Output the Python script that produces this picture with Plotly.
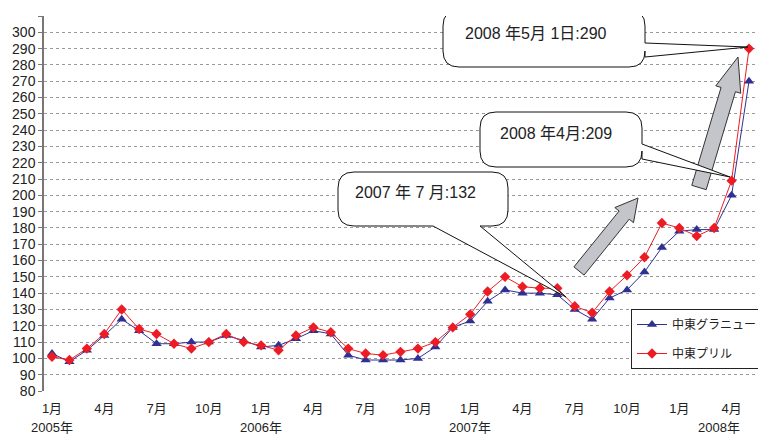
import plotly.graph_objects as go

# ---------------- data ----------------
months = list(range(41))  # Jan 2005 .. May 2008
granular = [103, 98, 105, 114, 124, 117, 109, 109, 110, 110, 114, 111,
            107, 108, 112, 117, 115, 102, 99, 99, 99, 100, 107, 119,
            123, 135, 142, 140, 140, 139, 130, 124, 137, 142, 153, 168,
            178, 179, 179, 200, 270]
prill = [101, 99, 106, 115, 130, 118, 115, 109, 106, 110, 115, 110,
         108, 105, 114, 119, 116, 106, 103, 102, 104, 106, 110, 119,
         127, 141, 150, 144, 143, 143, 132, 128, 141, 151, 162, 183,
         180, 175, 180, 209, 290]
tick_vals = list(range(0, 41, 3))
tick_text = ["1月", "4月", "7月", "10月"] * 3 + ["1月", "4月"]
year_labels = ["2005年", "2006年", "2007年", "2008年"]
year_pos = [0, 12, 24, 38.3]
series_names = ["中東グラニュー", "中東プリル"]
callouts = ["2008 年5月 1日:290", "2008 年4月:209", "2007 年 7 月:132"]

# ---------------- geometry (screen pixels -> data) ----------------
OFF = 8                      # default page body margin
SW, SH = 766, 436            # screen size
W, H = SW - OFF, SH - OFF    # figure size
PL, PR, PT, PB = 44, 766, 16, 391   # plot area on screen
ML, MR, MT, MB = PL - OFF, SW - PR, PT - OFF, SH - PB
SX = (749 - 52) / 40.0
YMIN, YMAX = 80, 310
SY = (PB - PT) / (YMAX - YMIN)
XMIN = (PL - 52) / SX
XMAX = (PR - 52) / SX


def X(px):
    return (px - 52) / SX


def Y(py):
    return YMAX - (py - PT) / SY


def P(px, py):
    return f"{X(px):.4f},{Y(py):.4f}"


def bubble(x0, y0, x1, y1, r, side, a, b, tip):
    d = f"M {P(x0 + r, y0)} L {P(x1 - r, y0)} Q {P(x1, y0)} {P(x1, y0 + r)} "
    if side == "right":
        d += f"L {P(x1, a)} L {P(*tip)} L {P(x1, b)} "
    d += f"L {P(x1, y1 - r)} Q {P(x1, y1)} {P(x1 - r, y1)} "
    if side == "bottom":
        d += f"L {P(b, y1)} L {P(*tip)} L {P(a, y1)} "
    d += f"L {P(x0 + r, y1)} Q {P(x0, y1)} {P(x0, y1 - r)} "
    d += f"L {P(x0, y0 + r)} Q {P(x0, y0)} {P(x0 + r, y0)} Z"
    return d


def block_arrow(tail, tip, w, hw, hl):
    tx, ty = tail
    hx, hy = tip
    dx, dy = hx - tx, hy - ty
    L = (dx * dx + dy * dy) ** 0.5
    ux, uy = dx / L, dy / L
    nx, ny = -uy, ux
    bx, by = hx - ux * hl, hy - uy * hl
    pts = [
        (tx + nx * w, ty + ny * w),
        (bx + nx * w, by + ny * w),
        (bx + nx * hw, by + ny * hw),
        (hx, hy),
        (bx - nx * hw, by - ny * hw),
        (bx - nx * w, by - ny * w),
        (tx - nx * w, ty - ny * w),
    ]
    return "M " + " L ".join(P(*p) for p in pts) + " Z"


FONT = "Liberation Sans Narrow, Liberation Sans, Noto Sans CJK JP, sans-serif"
JFONT = "Liberation Sans, Noto Sans CJK JP, sans-serif"

fig = go.Figure()
fig.add_trace(go.Scatter(
    x=months, y=granular, mode="lines+markers", name=series_names[0],
    line=dict(color="#2e3192", width=1),
    marker=dict(symbol="triangle-up", size=9, color="#2e3192"),
    legendgroup="a"))
fig.add_trace(go.Scatter(
    x=months, y=prill, mode="lines+markers", name=series_names[1],
    line=dict(color="#ed1c24", width=1),
    marker=dict(symbol="diamond", size=8, color="#ed1c24"),
    legendgroup="b"))

shapes = []
arrow_style = dict(type="path", xref="x", yref="y", layer="above",
                   fillcolor="#c3c5ca", line=dict(color="#333333", width=1))
shapes.append(dict(path=block_arrow((579, 271), (638, 198), 6.5, 12, 22), **arrow_style))
shapes.append(dict(path=block_arrow((699, 187.5), (738, 57), 7.5, 13, 34), **arrow_style))

bubble_style = dict(type="path", xref="x", yref="y", layer="above",
                    fillcolor="white", line=dict(color="#111111", width=1))
shapes.append(dict(path=bubble(443, 10, 645, 67, 16, "right", 43, 57, (748, 47)), **bubble_style))
shapes.append(dict(path=bubble(480, 112, 642, 167, 16, "right", 144, 159, (730, 177)), **bubble_style))
shapes.append(dict(path=bubble(338, 172, 508, 226, 16, "bottom", 433, 480, (566, 297)), **bubble_style))

annotations = []
for txt, (cx, cy) in zip(callouts, [(536, 33), (556, 133), (415, 192)]):
    annotations.append(dict(x=X(cx), y=Y(cy), xref="x", yref="y", text=txt,
                            showarrow=False, font=dict(family=JFONT, size=16, color="#222222")))
for txt, xv in zip(year_labels, year_pos):
    annotations.append(dict(x=xv, y=(PB - 427) / (PB - PT), xref="x", yref="paper",
                            text=txt, showarrow=False, yanchor="middle",
                            font=dict(family=FONT, size=13, color="#222222")))

fig.update_layout(
    width=W, height=H, autosize=False,
    margin=dict(l=ML, r=MR, t=MT, b=MB),
    plot_bgcolor="white", paper_bgcolor="white",
    shapes=shapes, annotations=annotations,
    legend=dict(x=(631 - PL) / (PR - PL), y=(PB - 309) / (PB - PT),
                xanchor="left", yanchor="top",
                bgcolor="white", bordercolor="#222222", borderwidth=1,
                font=dict(family=JFONT, size=12, color="#222222"),
                itemwidth=30, tracegroupgap=10, traceorder="grouped"),
    xaxis=dict(range=[XMIN, XMAX], tickvals=tick_vals, ticktext=tick_text,
               showgrid=False, zeroline=False, showline=False, ticks="",
               ticklabelstandoff=8,
               tickfont=dict(family=FONT, size=13, color="#222222")),
    yaxis=dict(range=[YMIN, YMAX], dtick=10, tick0=80,
               showgrid=True, gridcolor="#9a9a9a", griddash="dot", gridwidth=1,
               zeroline=False, showline=True, linecolor="#777777", linewidth=1.5,
               ticks="outside", ticklen=4, tickcolor="#777777",
               tickfont=dict(family=FONT, size=14, color="#222222")),
)

fig.write_html("out.html")
